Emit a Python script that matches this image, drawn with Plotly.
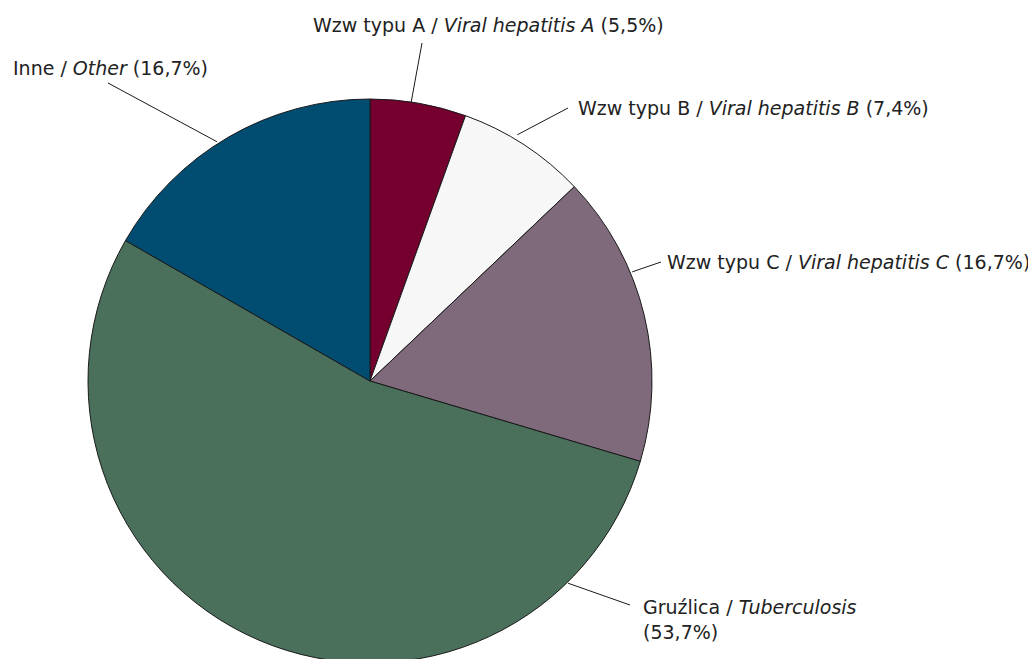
import math
import plotly.graph_objects as go

# ---- data ----
labels_pl = ["Wzw typu A", "Wzw typu B", "Wzw typu C", "Gruźlica", "Inne"]
labels_en = ["Viral hepatitis A", "Viral hepatitis B", "Viral hepatitis C", "Tuberculosis", "Other"]
shares = [5.5, 7.4, 16.7, 53.7, 16.7]
colors = ["#75002F", "#F7F7F7", "#7F6A7C", "#4A6F5B", "#014C71"]

# ---- layout config ----
W, H = 1036, 659
OFF = 8  # page body margin in which the figure div sits
CX, CY, R = 370, 381, 282  # pie center / radius in screen px
# leader line: start angle (deg clockwise from 12 o'clock), end point px; text anchor px
leader_angle = [8.4, 30.9, 67.4, 135.6, 327.4]
leader_rad_extra = [0, 5, 2, 1, 2]
leader_end = [(422, 43), (568, 108), (661, 262), (630, 605), (108, 83)]
text_pos = [(488, 25, "center"), (576, 108, "left"), (665, 262, "left"), (641, 619, "left"), (11, 68, "left")]
two_line = [False, False, False, True, False]

FONT = "DejaVu Sans, Verdana, sans-serif"
FSIZE = 19

def px(x):
    return (x - OFF) / W

def py(y):
    return 1 - (y - OFF) / H

fig = go.Figure()
fig.add_trace(go.Pie(
    labels=labels_pl,
    values=shares,
    sort=False,
    direction="clockwise",
    rotation=0,
    marker=dict(colors=colors, line=dict(color="#1a1a1a", width=1)),
    textinfo="none",
    hoverinfo="label+percent",
    showlegend=False,
    domain=dict(x=[px(CX - R), px(CX + R)], y=[py(CY + R), py(CY - R)]),
))

shapes = []
annotations = []
for i in range(len(shares)):
    a = math.radians(leader_angle[i])
    r = R + leader_rad_extra[i]
    x0 = CX + r * math.sin(a)
    y0 = CY - r * math.cos(a)
    x1, y1 = leader_end[i]
    shapes.append(dict(type="line", xref="paper", yref="paper",
                       x0=px(x0), y0=py(y0), x1=px(x1), y1=py(y1),
                       line=dict(color="#1a1a1a", width=1)))
    pct = f"{shares[i]:.1f}".replace(".", ",") + "%"
    sep = "<br>" if two_line[i] else " "
    txt = f"{labels_pl[i]} / <i>{labels_en[i]}</i>{sep}({pct})"
    tx, ty, anc = text_pos[i]
    annotations.append(dict(text=txt, xref="paper", yref="paper",
                            x=px(tx), y=py(ty), xanchor=anc, yanchor="middle",
                            align="left", showarrow=False,
                            font=dict(family=FONT, size=FSIZE, color="#222222")))

fig.update_layout(
    width=W, height=H,
    margin=dict(l=0, r=0, t=0, b=0),
    paper_bgcolor="white",
    plot_bgcolor="white",
    shapes=shapes,
    annotations=annotations,
)

fig.write_html("out.html")
